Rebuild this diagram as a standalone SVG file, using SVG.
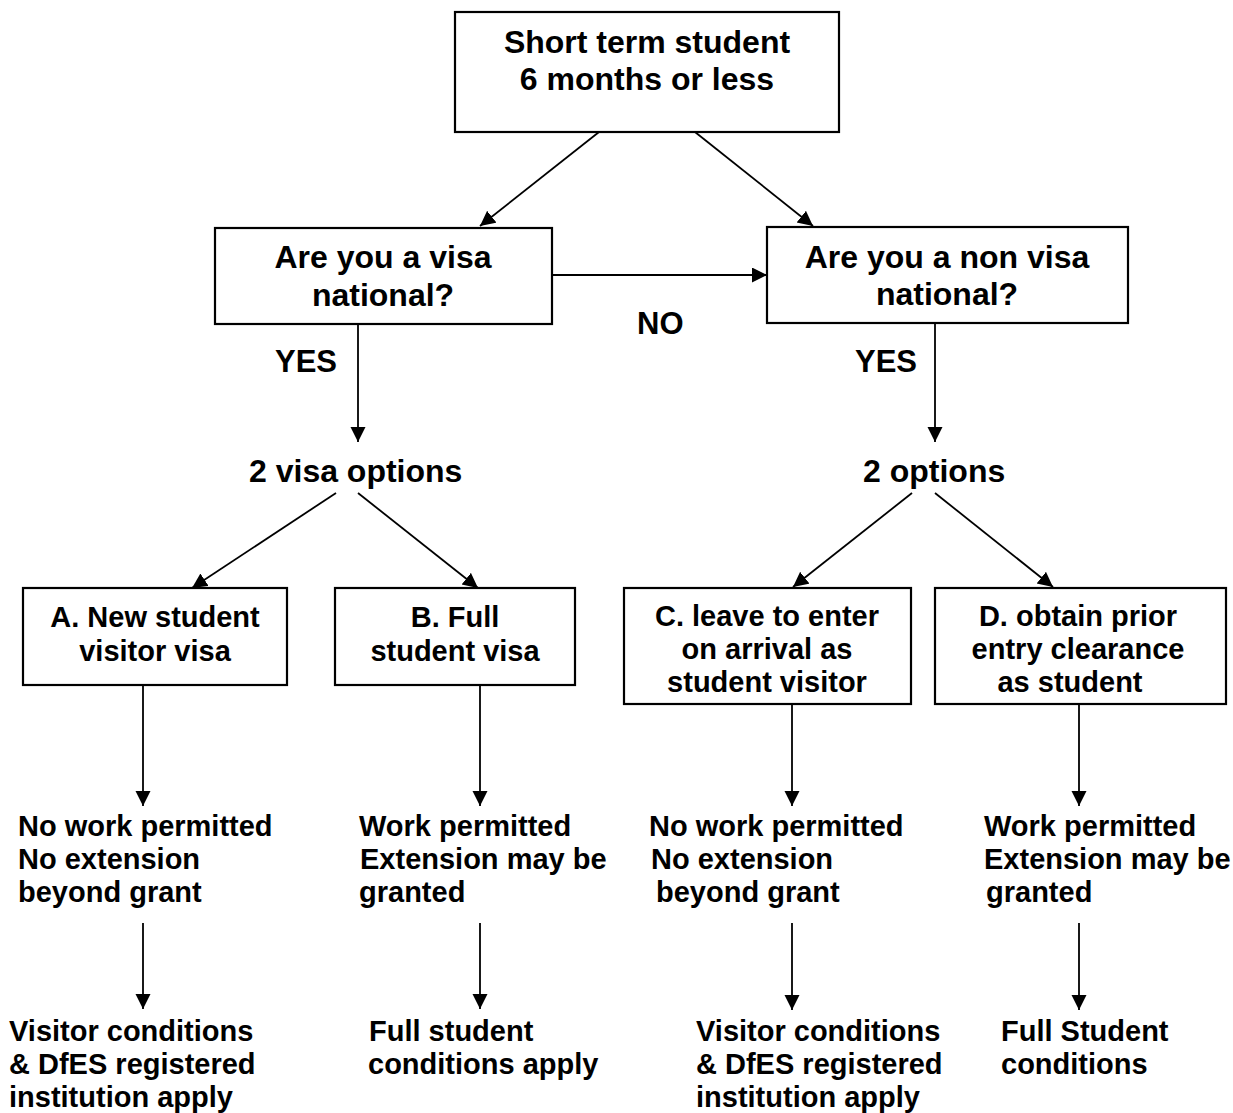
<svg xmlns="http://www.w3.org/2000/svg" width="1233" height="1113" viewBox="0 0 1233 1113">
<defs>
<marker id="ah" markerUnits="userSpaceOnUse" markerWidth="16" markerHeight="16" refX="15" refY="7.5" orient="auto">
<path d="M0,0 L15,7.5 L0,15 z" fill="#000"/>
</marker>
<style>
.box{fill:#fff;stroke:#000;stroke-width:2.2}
.c{stroke:#000;stroke-width:1.8;fill:none;marker-end:url(#ah)}
text{font-family:"Liberation Sans",Arial,sans-serif;font-weight:bold;fill:#000}
.t1{font-size:32px}
.t2{font-size:31px}
.t3{font-size:29px}
.m{text-anchor:middle}
</style>
</defs>
<rect width="1233" height="1113" fill="#fff"/>
<g id="connectors">
<line class="c" x1="599" y1="132" x2="480" y2="226"/>
<line class="c" x1="695" y1="132" x2="813" y2="226"/>
<line class="c" x1="552" y1="275" x2="767" y2="275"/>
<line class="c" x1="358" y1="324" x2="358" y2="442"/>
<line class="c" x1="935" y1="323" x2="935" y2="442"/>
<line class="c" x1="336" y1="493" x2="192" y2="588"/>
<line class="c" x1="358" y1="493" x2="478" y2="588"/>
<line class="c" x1="912" y1="493" x2="793" y2="587"/>
<line class="c" x1="935" y1="493" x2="1053" y2="587"/>
<line class="c" x1="143" y1="685" x2="143" y2="806"/>
<line class="c" x1="480" y1="685" x2="480" y2="806"/>
<line class="c" x1="792" y1="704" x2="792" y2="806"/>
<line class="c" x1="1079" y1="704" x2="1079" y2="806"/>
<line class="c" x1="143" y1="923" x2="143" y2="1009"/>
<line class="c" x1="480" y1="923" x2="480" y2="1009"/>
<line class="c" x1="792" y1="923" x2="792" y2="1010"/>
<line class="c" x1="1079" y1="923" x2="1079" y2="1010"/>
</g>
<g id="start">
<rect class="box" x="455" y="12" width="384" height="120"/>
<text class="t1 m" x="647" y="53">Short term student</text>
<text class="t1 m" x="647" y="90">6 months or less</text>
</g>
<g id="visa">
<rect class="box" x="215" y="228" width="337" height="96"/>
<text class="t1 m" x="383" y="268">Are you a visa</text>
<text class="t1 m" x="383" y="306">national?</text>
</g>
<g id="nonvisa">
<rect class="box" x="767" y="227" width="361" height="96"/>
<text class="t1 m" x="947" y="268">Are you a non visa</text>
<text class="t1 m" x="947" y="305">national?</text>
</g>
<g id="lbl-no"><text class="t2" x="637" y="334">NO</text></g>
<g id="lbl-yes1"><text class="t2" x="275" y="372">YES</text></g>
<g id="lbl-yes2"><text class="t2" x="855" y="372">YES</text></g>
<g id="visa-options"><text class="t1" x="249" y="482">2 visa options</text></g>
<g id="options"><text class="t1" x="863" y="482">2 options</text></g>
<g id="boxA">
<rect class="box" x="23" y="588" width="264" height="97"/>
<text class="t3 m" x="155" y="627">A. New student</text>
<text class="t3 m" x="155" y="661">visitor visa</text>
</g>
<g id="boxB">
<rect class="box" x="335" y="588" width="240" height="97"/>
<text class="t3 m" x="455" y="627">B. Full</text>
<text class="t3 m" x="455" y="661">student visa</text>
</g>
<g id="boxC">
<rect class="box" x="624" y="588" width="287" height="116"/>
<text class="t3 m" x="767" y="626">C. leave to enter</text>
<text class="t3 m" x="767" y="659">on arrival as</text>
<text class="t3 m" x="767" y="692">student visitor</text>
</g>
<g id="boxD">
<rect class="box" x="935" y="588" width="291" height="116"/>
<text class="t3 m" x="1078" y="626">D. obtain prior</text>
<text class="t3 m" x="1078" y="659">entry clearance</text>
<text class="t3 m" x="1070" y="692">as student</text>
</g>
<g id="condA">
<text class="t3" x="18" y="836">No work permitted</text>
<text class="t3" x="18" y="869">No extension</text>
<text class="t3" x="18" y="902">beyond grant</text>
</g>
<g id="condB">
<text class="t3" x="359" y="836">Work permitted</text>
<text class="t3" x="360" y="869">Extension may be</text>
<text class="t3" x="359" y="902">granted</text>
</g>
<g id="condC">
<text class="t3" x="649" y="836">No work permitted</text>
<text class="t3" x="651" y="869">No extension</text>
<text class="t3" x="656" y="902">beyond grant</text>
</g>
<g id="condD">
<text class="t3" x="984" y="836">Work permitted</text>
<text class="t3" x="984" y="869">Extension may be</text>
<text class="t3" x="986" y="902">granted</text>
</g>
<g id="resA">
<text class="t3" x="9" y="1041">Visitor conditions</text>
<text class="t3" x="9" y="1074">&amp; DfES registered</text>
<text class="t3" x="9" y="1107">institution apply</text>
</g>
<g id="resB">
<text class="t3" x="369" y="1041">Full student</text>
<text class="t3" x="368" y="1074">conditions apply</text>
</g>
<g id="resC">
<text class="t3" x="696" y="1041">Visitor conditions</text>
<text class="t3" x="696" y="1074">&amp; DfES registered</text>
<text class="t3" x="696" y="1107">institution apply</text>
</g>
<g id="resD">
<text class="t3" x="1001" y="1041">Full Student</text>
<text class="t3" x="1001" y="1074">conditions</text>
</g>
</svg>
